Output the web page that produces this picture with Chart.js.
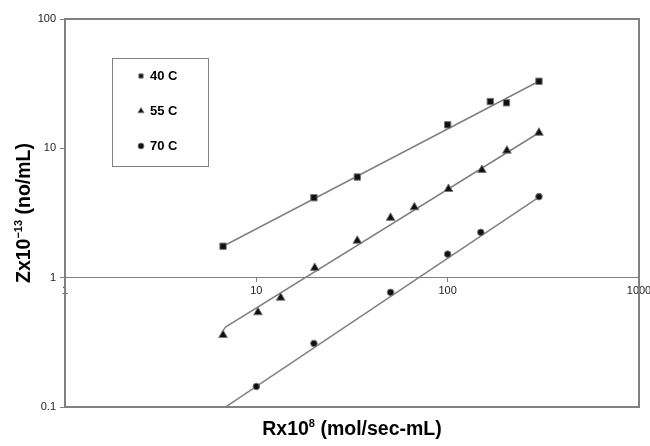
<!DOCTYPE html>
<html lang="en">
<head>
  <meta charset="UTF-8" />
  <title>Z vs R</title>
  <script src="https://cdn.jsdelivr.net/npm/chart.js"></script>
  <style>
    html, body { margin: 0; padding: 0; background: #fff; }
    #wrap { width: 650px; height: 446px; }
  </style>
</head>
<body>
  <div id="wrap"><canvas id="chart"></canvas></div>

  <script>
    // values (log-log)
    const seriesNames = ['40 C', '55 C', '70 C'];
    const pointStyles = ['rect', 'triangle', 'circle'];

    const r40 = [6.7, 20, 33.7, 100, 167, 203, 300];
    const z40 = [1.75, 4.15, 6.0, 15.2, 23, 22.5, 33];
    const r55 = [6.7, 10.2, 13.4, 20.2, 33.7, 50.3, 67, 101, 151, 204, 300];
    const z55 = [0.36, 0.54, 0.70, 1.19, 1.93, 2.9, 3.5, 4.85, 6.8, 9.6, 13.2];
    const r70 = [10, 20, 50.3, 100, 149, 300];
    const z70 = [0.144, 0.31, 0.77, 1.52, 2.24, 4.23];

    // trend lines
    const fitR40 = [6.7, 300];
    const fitZ40 = [1.75, 33];
    const fitR55 = [6.7, 6.9, 300];
    const fitZ55 = [0.39, 0.415, 13.2];
    const fitR70 = [6.7, 300];
    const fitZ70 = [0.097, 4.2];

    const xTicks = [1, 10, 100, 1000];
    const yTicks = [0.1, 1, 10, 100];

    const FONT = "'Liberation Sans', Arial, sans-serif";
    const GREY = '#808080';

    const pts = (xs, ys) => xs.map((x, i) => ({ x: x, y: ys[i] }));

    function markerSet(label, xs, ys, style, radius) {
      return {
        label: label,
        data: pts(xs, ys),
        showLine: false,
        pointStyle: style,
        pointRadius: radius,
        pointBackgroundColor: '#111',
        pointBorderColor: '#777',
        pointBorderWidth: 1
      };
    }
    function fitSet(xs, ys) {
      return {
        label: 'fit',
        data: pts(xs, ys),
        showLine: true,
        pointRadius: 0,
        borderColor: GREY,
        borderWidth: 1.5,
        fill: false
      };
    }

    function drawParts(ctx, parts, cx, cy) {
      let total = 0;
      parts.forEach(p => { ctx.font = p.font; total += ctx.measureText(p.t).width; });
      let x = cx - total / 2;
      parts.forEach(p => {
        ctx.font = p.font;
        ctx.fillText(p.t, x, cy + (p.dy || 0));
        x += ctx.measureText(p.t).width;
      });
    }

    const decor = {
      id: 'decor',
      afterDraw(chart) {
        const ctx = chart.ctx;
        const ca = chart.chartArea;
        ctx.save();

        // plot frame
        ctx.strokeStyle = GREY;
        ctx.lineWidth = 2;
        ctx.strokeRect(ca.left, ca.top, ca.right - ca.left, ca.bottom - ca.top);

        // axis titles
        ctx.fillStyle = '#000';
        ctx.textBaseline = 'middle';
        ctx.textAlign = 'left';
        const big = 'bold 19.5px ' + FONT;
        const small = 'bold 11px ' + FONT;
        drawParts(ctx, [
          { t: 'Rx10', font: big },
          { t: '8', font: small, dy: -6 },
          { t: ' (mol/sec-mL)', font: big }
        ], (ca.left + ca.right) / 2, 430);

        ctx.save();
        ctx.translate(25, (ca.top + ca.bottom) / 2);
        ctx.rotate(-Math.PI / 2);
        drawParts(ctx, [
          { t: 'Zx10', font: big },
          { t: '\u221213', font: small, dy: -6 },
          { t: ' (no/mL)', font: big }
        ], 0, 0);
        ctx.restore();

        // legend box
        const bx = ca.left + 47, by = ca.top + 39, bw = 96, bh = 108;
        ctx.lineWidth = 1;
        ctx.strokeStyle = GREY;
        ctx.strokeRect(bx + 0.5, by + 0.5, bw, bh);
        seriesNames.forEach((name, i) => {
          const y = by + 18 + i * 35;
          ctx.fillStyle = '#111';
          ctx.strokeStyle = '#777';
          Chart.helpers.drawPoint(ctx, {
            pointStyle: pointStyles[i], radius: i === 1 ? 3.5 : 3, rotation: 0, borderWidth: 1
          }, bx + 29, y);
          ctx.fillStyle = '#000';
          ctx.font = 'bold 13px ' + FONT;
          ctx.textAlign = 'left';
          ctx.fillText(name, bx + 38, y);
        });
        ctx.restore();
      }
    };

    new Chart(document.getElementById('chart'), {
      type: 'scatter',
      data: {
        datasets: [
          markerSet(seriesNames[0], r40, z40, 'rect', 4.5),
          markerSet(seriesNames[1], r55, z55, 'triangle', 5),
          markerSet(seriesNames[2], r70, z70, 'circle', 3.3),
          fitSet(fitR40, fitZ40),
          fitSet(fitR55, fitZ55),
          fitSet(fitR70, fitZ70)
        ]
      },
      options: {
        responsive: true,
        maintainAspectRatio: false,
        animation: false,
        layout: { padding: { left: 0, top: 19, right: 11, bottom: 39 } },
        plugins: { legend: { display: false }, tooltip: { enabled: false } },
        scales: {
          x: {
            type: 'logarithmic',
            min: 1,
            max: 1000,
            position: { y: 1 },
            afterFit: s => { s.paddingLeft = 0; s.paddingRight = 0; },
            afterBuildTicks: s => { s.ticks = xTicks.map(v => ({ value: v })); },
            ticks: {
              callback: v => String(v),
              color: '#222',
              font: { family: FONT, size: 11 },
              padding: 3,
              maxRotation: 0
            },
            grid: { drawOnChartArea: false, drawTicks: true, tickLength: 4, color: GREY },
            border: { display: true, color: GREY, width: 1 }
          },
          y: {
            type: 'logarithmic',
            min: 0.1,
            max: 100,
            afterFit: s => { s.width = 65; },
            afterBuildTicks: s => { s.ticks = yTicks.map(v => ({ value: v })); },
            ticks: {
              callback: v => String(v),
              color: '#222',
              font: { family: FONT, size: 11 },
              padding: 4
            },
            grid: { drawOnChartArea: false, drawTicks: true, tickLength: 5, color: GREY },
            border: { display: true, color: GREY, width: 2 }
          }
        }
      },
      plugins: [decor]
    });
  </script>
</body>
</html>
